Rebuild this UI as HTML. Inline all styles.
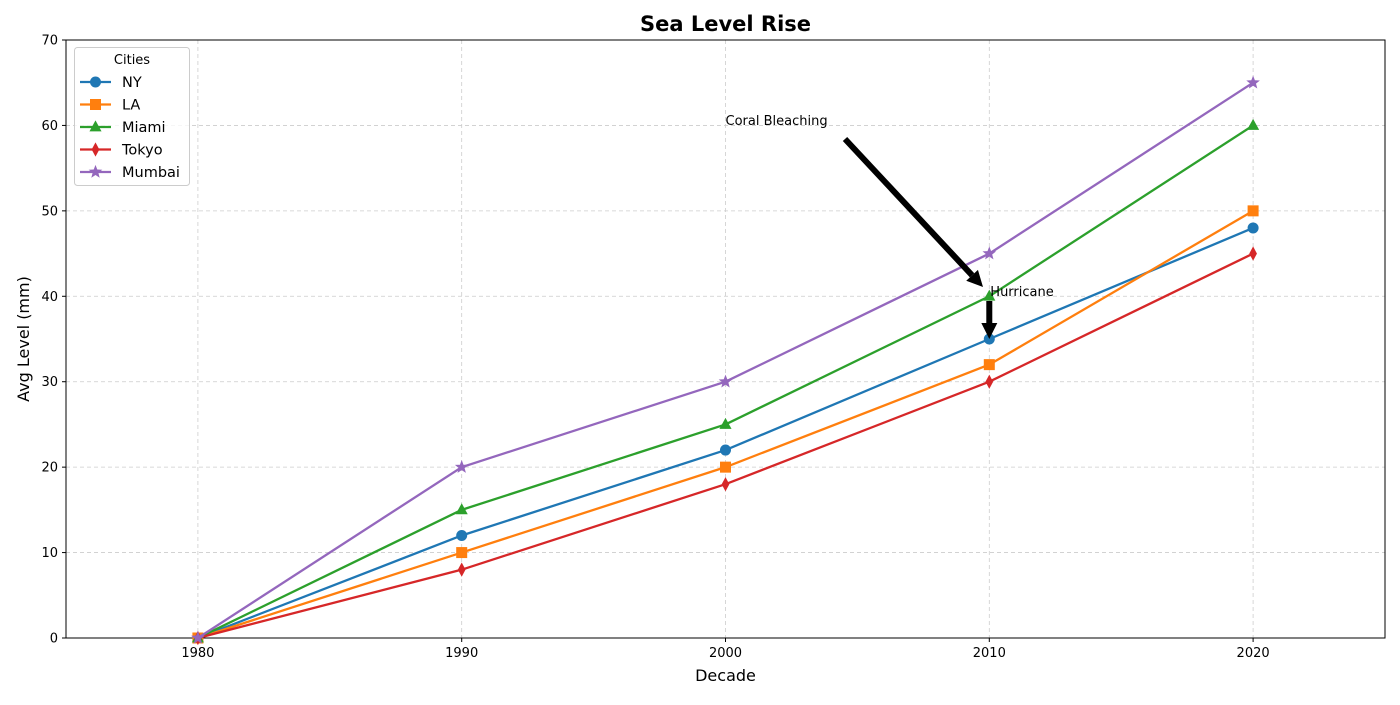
<!DOCTYPE html>
<html><head><meta charset="utf-8"><style>
body{margin:0;background:#fff;font-family:"Liberation Sans","DejaVu Sans",sans-serif}
svg text{font-family:"DejaVu Sans","Liberation Sans",sans-serif}
</style></head><body>
<svg id="c" width="1400" height="700"></svg>
<script>
const decades=[1980,1990,2000,2010,2020];
const seriesNames=["NY","LA","Miami","Tokyo","Mumbai"];
const colors=["#1f77b4","#ff7f0e","#2ca02c","#d62728","#9467bd"];
const markers=["circle","square","triangle","diamond","star"];
const ny=[0,12,22,35,48];
const la=[0,10,20,32,50];
const miami=[0,15,25,40,60];
const tokyo=[0,8,18,30,45];
const mumbai=[0,20,30,45,65];
const seriesValues=[ny,la,miami,tokyo,mumbai];
const xTicks=[1980,1990,2000,2010,2020];
const yTicks=[0,10,20,30,40,50,60,70];
const L=66,R=1385,T=40,B=638,xMin=1975,xMax=2025,yMin=0,yMax=70;
const X=v=>L+(v-xMin)/(xMax-xMin)*(R-L);
const Y=v=>B-(v-yMin)/(yMax-yMin)*(B-T);
const svg=document.getElementById('c');const NS="http://www.w3.org/2000/svg";
function mk(t,a,p){const e=document.createElementNS(NS,t);for(const k in a)e.setAttribute(k,a[k]);(p||svg).appendChild(e);return e;}
function txt(s,a,p){const e=mk('text',a,p);e.textContent=s;return e;}
function marker(type,x,y,col,s,p){
 if(type=="circle")return mk('circle',{cx:x,cy:y,r:s,fill:col},p);
 if(type=="square")return mk('rect',{x:x-s,y:y-s,width:2*s,height:2*s,fill:col},p);
 if(type=="triangle")return mk('polygon',{points:`${x},${y-s*1.2} ${x-s*1.1},${y+s*0.8} ${x+s*1.1},${y+s*0.8}`,fill:col},p);
 if(type=="diamond")return mk('polygon',{points:`${x},${y-s*1.3} ${x+s*0.7},${y} ${x},${y+s*1.3} ${x-s*0.7},${y}`,fill:col},p);
 let pts=[];for(let i=0;i<10;i++){const r=i%2?s*0.55:s*1.3,a=-Math.PI/2+i*Math.PI/5;pts.push((x+r*Math.cos(a))+","+(y+r*Math.sin(a)));}
 return mk('polygon',{points:pts.join(' '),fill:col},p);
}
xTicks.forEach(v=>{const g=mk('line',{x1:X(v),x2:X(v),y1:T,y2:B,stroke:"#ccc","stroke-dasharray":"4,3","stroke-width":0.8});

mk('line',{x1:X(v),x2:X(v),y1:B,y2:B+4,stroke:"#000"});
const t=txt(v,{x:X(v),y:B+19,"text-anchor":"middle","font-size":13});
});
yTicks.forEach(v=>{const g=mk('line',{x1:L,x2:R,y1:Y(v),y2:Y(v),stroke:"#ccc","stroke-dasharray":"4,3","stroke-width":0.8});

mk('line',{x1:L-4,x2:L,y1:Y(v),y2:Y(v),stroke:"#000"});
const t=txt(v,{x:L-8,y:Y(v)+4.5,"text-anchor":"end","font-size":13});
});
const fr=mk('rect',{x:L,y:T,width:R-L,height:B-T,fill:"none",stroke:"#000","stroke-width":1});

seriesValues.forEach((vals,i)=>{
 const g=mk('g',{});
 
 mk('polyline',{points:vals.map((v,j)=>X(decades[j])+","+Y(v)).join(' '),fill:"none",stroke:colors[i],"stroke-width":2.3},g);
 vals.forEach((v,j)=>{const m=marker(markers[i],X(decades[j]),Y(v),colors[i],5.5,g);
 });
});
function arrow(x1,y1,x2,y2,name){const g=mk('g',{});
 const dx=x2-x1,dy=y2-y1,len=Math.hypot(dx,dy),ux=dx/len,uy=dy/len,hl=16,hw=8;
 const bx=x2-ux*hl,by=y2-uy*hl;
 mk('line',{x1:x1,y1:y1,x2:bx,y2:by,stroke:"#000","stroke-width":6},g);
 mk('polygon',{points:`${x2},${y2} ${bx-uy*hw},${by+ux*hw} ${bx+uy*hw},${by-ux*hw}`,fill:"#000"},g);}
let t=txt("Coral Bleaching",{x:X(2000),y:125,"font-size":13});
arrow(845,139,983,287,'arrow-coral-bleaching');
t=txt("Hurricane",{x:X(2010)+1,y:296,"font-size":13});
arrow(X(2010),301,X(2010),Y(35),'arrow-hurricane');
t=txt("Sea Level Rise",{x:(L+R)/2,y:31,"text-anchor":"middle","font-size":21,"font-weight":"bold"});
t=txt("Decade",{x:(L+R)/2,y:681,"text-anchor":"middle","font-size":16});
t=txt("Avg Level (mm)",{x:0,y:0,"text-anchor":"middle","font-size":16,transform:`translate(29,${(T+B)/2}) rotate(-90)`});
const lg=mk('g',{});
mk('rect',{x:74.5,y:47.5,width:115,height:138,rx:3,fill:"#fff","fill-opacity":0.8,stroke:"#ccc"},lg);
txt("Cities",{x:132,y:64,"text-anchor":"middle","font-size":13},lg);
seriesNames.forEach((n,i)=>{const y=82+i*22.5;const e=mk('g',{},lg);
 
 mk('line',{x1:80,x2:111,y1:y,y2:y,stroke:colors[i],"stroke-width":2.3},e);
 marker(markers[i],95.5,y,colors[i],5.5,e);
 txt(n,{x:122,y:y+5,"font-size":14.5},e);});
</script>
</body></html>
